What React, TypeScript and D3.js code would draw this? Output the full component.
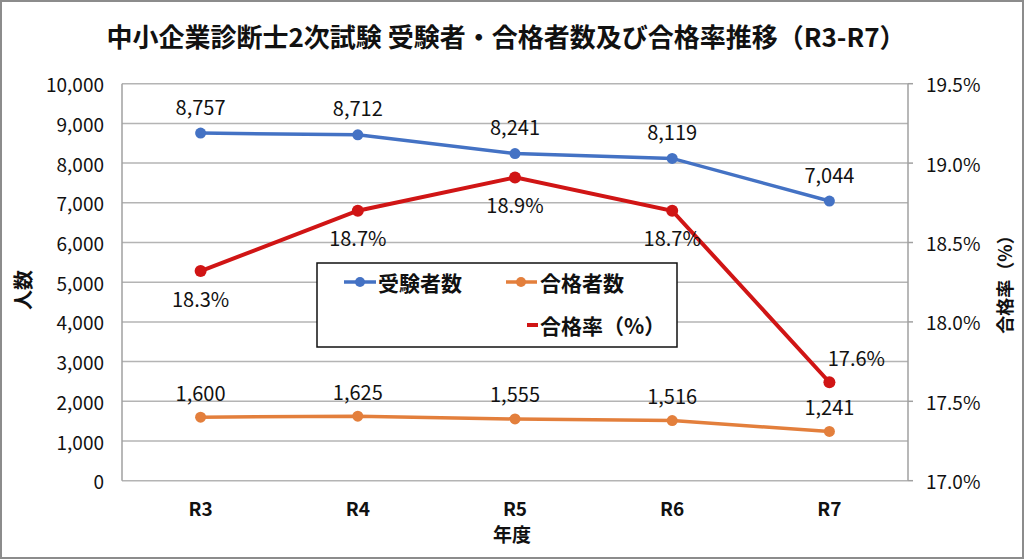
import React from "react";
import * as d3 from "d3";

const categories = ["R3", "R4", "R5", "R6", "R7"];
const examinees = [8757, 8712, 8241, 8119, 7044];
const passers = [1600, 1625, 1555, 1516, 1241];
const passRate = [18.32, 18.7, 18.91, 18.7, 17.62];
const leftTicks = [0, 1000, 2000, 3000, 4000, 5000, 6000, 7000, 8000, 9000, 10000];
const rightTicks = [17.0, 17.5, 18.0, 18.5, 19.0, 19.5];

const W = 1024;
const H = 559;
const FONT = "'Noto Sans CJK JP', 'Noto Sans', sans-serif";
const BLUE = "#4472c4";
const ORANGE = "#e37f3c";
const RED = "#d01515";

export default function App() {
  const left = 122, right = 908, top = 83.7, bottom = 480.7;
  const x = d3.scaleBand<string>().domain(categories).range([left, right]);
  const cx = (c: string) => (x(c) as number) + x.bandwidth() / 2;
  const yL = d3.scaleLinear().domain([0, 10000]).range([bottom, top]);
  const yR = d3.scaleLinear().domain([17, 19.5]).range([bottom, top]);
  const fmtN = d3.format(",");
  const fmtP = (v: number) => d3.format(".1f")(v) + "%";
  const lineL = d3.line<number>().x((_, i) => cx(categories[i])).y((v) => yL(v));
  const lineR = d3.line<number>().x((_, i) => cx(categories[i])).y((v) => yR(v));

  return (
    <svg width={W} height={H} style={{ position: "absolute", left: 0, top: 0, background: "#fff" }} fontFamily={FONT}>
      <rect x={1} y={1} width={W - 2} height={H - 2} fill="#fff" stroke="#8c8c8c" strokeWidth={2} />
      <text x={506} y={35} textAnchor="middle" dominantBaseline="central" fontSize={26} fontWeight="bold" fill="#111">
        中小企業診断士2次試験 受験者・合格者数及び合格率推移（R3-R7）
      </text>

      {/* gridlines */}
      {leftTicks.map((t) => (
        <line key={"g" + t} x1={left} x2={right} y1={yL(t)} y2={yL(t)} stroke="#b4b4b4" strokeWidth={1.5} />
      ))}
      {rightTicks.map((t) => (
        <line key={"rt" + t} x1={right} x2={right + 5} y1={yR(t)} y2={yR(t)} stroke="#a0a0a0" strokeWidth={1.5} />
      ))}
      <line x1={left} x2={left} y1={top} y2={bottom} stroke="#a0a0a0" strokeWidth={1.5} />
      <line x1={right} x2={right} y1={top} y2={bottom} stroke="#a0a0a0" strokeWidth={1.5} />

      {/* tick labels */}
      {leftTicks.map((t) => (
        <text key={"lt" + t} x={104} y={yL(t)} textAnchor="end" dominantBaseline="central" fontSize={19} fill="#111">
          {fmtN(t)}
        </text>
      ))}
      {rightTicks.map((t) => (
        <text key={"rl" + t} x={926} y={yR(t)} textAnchor="start" dominantBaseline="central" fontSize={19} fill="#111">
          {fmtP(t)}
        </text>
      ))}
      {categories.map((c) => (
        <text key={"x" + c} x={cx(c)} y={507} textAnchor="middle" dominantBaseline="central" fontSize={19} fontWeight="bold" fill="#111">
          {c}
        </text>
      ))}
      <text x={512} y={533} textAnchor="middle" dominantBaseline="central" fontSize={19} fontWeight="bold" fill="#111">年度</text>
      <text transform="translate(22,290) rotate(-90)" textAnchor="middle" dominantBaseline="central" fontSize={20} fontWeight="bold" fill="#111">人数</text>
      <text transform="translate(1004,280) rotate(-90)" textAnchor="middle" dominantBaseline="central" fontSize={18} fontWeight="bold" fill="#111">合格率（%）</text>

      {/* series */}
      <path d={lineL(examinees) || ""} fill="none" stroke={BLUE} strokeWidth={3.5} />
      <path d={lineL(passers) || ""} fill="none" stroke={ORANGE} strokeWidth={3.5} />
      <path d={lineR(passRate) || ""} fill="none" stroke={RED} strokeWidth={4} />
      {examinees.map((v, i) => (
        <g key={"b" + i}>
          <circle cx={cx(categories[i])} cy={yL(v)} r={5.5} fill={BLUE} />
          <text x={cx(categories[i])} y={yL(v) - 27} textAnchor="middle" dominantBaseline="central" fontSize={20} fill="#111">{fmtN(v)}</text>
        </g>
      ))}
      {passers.map((v, i) => (
        <g key={"o" + i}>
          <circle cx={cx(categories[i])} cy={yL(v)} r={5.5} fill={ORANGE} />
          <text x={cx(categories[i])} y={yL(v) - 25} textAnchor="middle" dominantBaseline="central" fontSize={20} fill="#111">{fmtN(v)}</text>
        </g>
      ))}
      {passRate.map((v, i) => {
        const last = i === passRate.length - 1;
        return (
          <g key={"r" + i}>
            <circle cx={cx(categories[i])} cy={yR(v)} r={6} fill={RED} />
            <text x={cx(categories[i]) + (last ? 27 : 0)} y={yR(v) + (last ? -25 : 27)} textAnchor="middle" dominantBaseline="central" fontSize={20} fill="#111">{fmtP(v)}</text>
          </g>
        );
      })}

      {/* legend */}
      <g>
        <rect x={317} y={263} width={360} height={84} fill="#fff" stroke="#111" strokeWidth={1.5} />
        <line x1={344} x2={376} y1={282} y2={282} stroke={BLUE} strokeWidth={3.5} />
        <circle cx={360} cy={282} r={5} fill={BLUE} />
        <text x={378} y={282} dominantBaseline="central" fontSize={21} fontWeight="bold" fill="#111">受験者数</text>
        <line x1={506} x2={537} y1={282} y2={282} stroke={ORANGE} strokeWidth={3.5} />
        <circle cx={521} cy={282} r={5} fill={ORANGE} />
        <text x={540} y={282} dominantBaseline="central" fontSize={21} fontWeight="bold" fill="#111">合格者数</text>
        <line x1={527} x2={538} y1={325} y2={325} stroke={RED} strokeWidth={4} />
        <text x={540} y={325} dominantBaseline="central" fontSize={21} fontWeight="bold" fill="#111">合格率（%）</text>
      </g>
    </svg>
  );
}
